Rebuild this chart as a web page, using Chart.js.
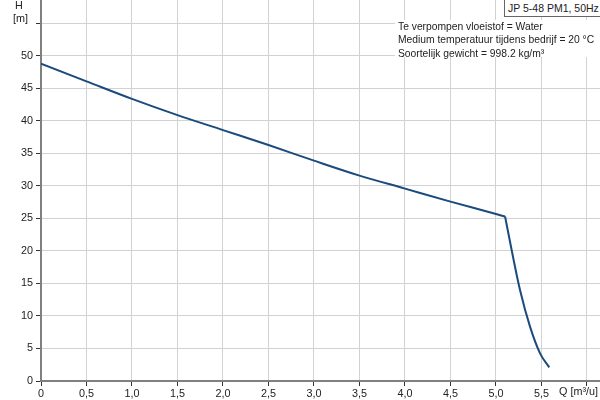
<!DOCTYPE html>
<html>
<head>
<meta charset="utf-8">
<script src="https://cdn.jsdelivr.net/npm/chart.js@4"></script>
<style>
  html, body { margin: 0; padding: 0; background: #fff; }
  #wrap { position: relative; width: 600px; height: 400px; overflow: hidden; font-family: "Liberation Sans", Arial, sans-serif; font-size: 10.4px; color: #222; }
  canvas { position: absolute; left: 0; top: 0; }
  .t { position: absolute; white-space: nowrap; line-height: 13px; font-size: 10.8px; }
  #title { position: absolute; left: 504px; top: -1px; width: 94px; height: 16px; border: 1px solid #666; background: #fff; line-height: 16px; padding-left: 3px; box-sizing: content-box; white-space: nowrap; font-size: 10.5px; }
  #info { position: absolute; left: 395px; top: 20px; width: 205px; height: 37px; background: #fff; padding-left: 3px; line-height: 13.3px; white-space: nowrap; box-sizing: border-box; font-size: 10.3px; }
</style>
</head>
<body>
<div id="wrap">
  <canvas id="c" width="600" height="400"></canvas>
  <div class="t" style="left:15px;top:-1px;">H</div>
  <div class="t" style="left:13px;top:12px;">[m]</div>
  <div class="t" style="left:559px;top:385px;">Q [m³/u]</div>
  <div id="title">JP 5-48 PM1, 50Hz</div>
  <div id="info">Te verpompen vloeistof = Water<br>Medium temperatuur tijdens bedrijf = 20 °C<br>Soortelijk gewicht = 998.2 kg/m³</div>
</div>
<script>
// Pump curve, regular part: flow Q [m³/u] and head H [m]
const flowQ = [0, 0.5, 1.0, 1.5, 2.0, 2.5, 3.0, 3.5, 4.0, 4.5, 5.0, 5.10];
const headH = [48.8, 46.1, 43.4, 40.9, 38.6, 36.3, 33.9, 31.6, 29.6, 27.6, 25.7, 25.3];
// Pump curve, steep end part
const flowQEnd = [5.10, 5.172, 5.264, 5.374, 5.484, 5.586];
const headHEnd = [25.3, 20.15, 14.0, 8.36, 4.26, 2.1];
// Tick values and labels
const xTicks = [0, 0.5, 1.0, 1.5, 2.0, 2.5, 3.0, 3.5, 4.0, 4.5, 5.0, 5.5, 6.0];
const yTicks = [0, 5, 10, 15, 20, 25, 30, 35, 40, 45, 50, 55];
const xTickLabels = ['0', '0,5', '1,0', '1,5', '2,0', '2,5', '3,0', '3,5', '4,0', '4,5', '5,0', '5,5', ''];
const yTickLabels = ['0', '5', '10', '15', '20', '25', '30', '35', '40', '45', '50', ''];

const toPts = (xs, ys) => xs.map((q, i) => ({ x: q, y: ys[i] }));

const font = { family: '"Liberation Sans", Arial, sans-serif', size: 10.8 };
const lineStyle = {
  showLine: true,
  borderColor: '#1b4a7c',
  borderWidth: 2,
  pointRadius: 0,
  cubicInterpolationMode: 'monotone',
  fill: false
};

new Chart(document.getElementById('c'), {
  type: 'scatter',
  data: {
    datasets: [
      Object.assign({ data: toPts(flowQ, headH) }, lineStyle),
      Object.assign({ data: toPts(flowQEnd, headHEnd) }, lineStyle)
    ]
  },
  options: {
    responsive: false,
    animation: false,
    layout: { padding: 0 },
    plugins: { legend: { display: false }, tooltip: { enabled: false } },
    scales: {
      x: {
        type: 'linear',
        min: 0,
        max: 6.143,
        afterBuildTicks: s => { s.ticks = xTicks.map(v => ({ value: v })); },
        afterFit: s => { s.height = 19; s.paddingLeft = 0; s.paddingRight = 0; },
        ticks: {
          font, color: '#222', padding: 2, maxRotation: 0, autoSkip: false,
          callback: (v, i) => xTickLabels[i]
        },
        grid: { color: '#d2d2d2', lineWidth: 1, tickLength: 5, tickColor: '#333' },
        border: { color: '#808080', width: 2 }
      },
      y: {
        type: 'linear',
        min: 0,
        max: 58.615,
        afterBuildTicks: s => { s.ticks = yTicks.map(v => ({ value: v })); },
        afterFit: s => { s.width = 41; s.paddingTop = 0; s.paddingBottom = 0; },
        ticks: {
          font, color: '#222', padding: 3, autoSkip: false,
          callback: (v, i) => yTickLabels[i]
        },
        grid: { color: '#d2d2d2', lineWidth: 1, tickLength: 5, tickColor: '#333' },
        border: { color: '#808080', width: 2 }
      }
    }
  }
});
</script>
</body>
</html>
